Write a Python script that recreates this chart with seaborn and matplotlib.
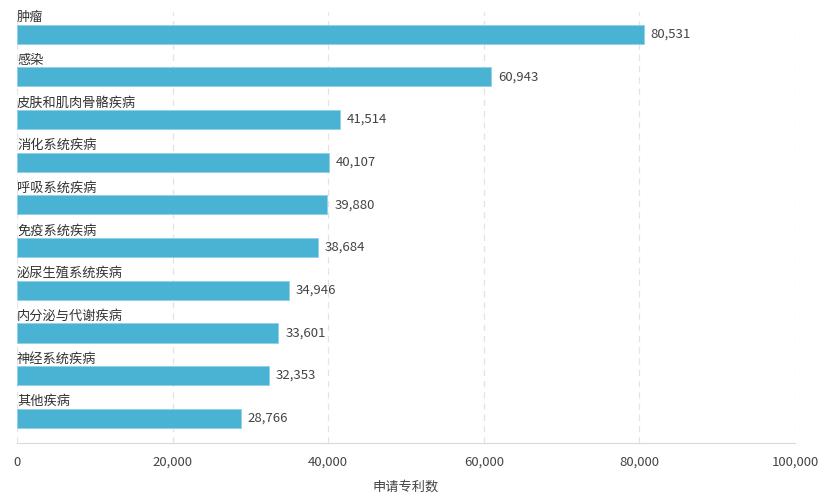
import numpy as np
import pandas as pd
import seaborn as sns
import matplotlib.pyplot as plt
from matplotlib.ticker import FuncFormatter

# 数据
categories = ['肿瘤', '感染', '皮肤和肌肉骨骼疾病', '消化系统疾病', '呼吸系统疾病',
              '免疫系统疾病', '泌尿生殖系统疾病', '内分泌与代谢疾病', '神经系统疾病', '其他疾病']
patents = [80531, 60943, 41514, 40107, 39880, 38684, 34946, 33601, 32353, 28766]
x_ticks = [0, 20000, 40000, 60000, 80000, 100000]

df = pd.DataFrame({'category': categories, 'patents': patents})

sns.set_style('white')
plt.rcParams['font.family'] = ['Noto Sans CJK SC', 'DejaVu Sans']

fig = plt.figure(figsize=(8.26, 4.96), dpi=100)
ax = fig.add_axes([17 / 826, 53 / 496, 778 / 826, 431 / 496])

bar_color = '#4AB2D2'
off = -0.03
sns.barplot(data=df, y='category', x='patents', orient='h', color=bar_color, saturation=1,
            width=0.45, edgecolor='#8fd0e6', linewidth=0.6, ax=ax, zorder=3)

# 条形位置微调，类别名写在条形上方
for p in ax.patches:
    p.set_y(p.get_y() + off)

for i, (c, v) in enumerate(zip(categories, patents)):
    ax.text(0, i - 0.27, c, ha='left', va='bottom', fontsize=9.5, color='#333333')
    ax.text(v + 900, i + off, f'{v:,}', ha='left', va='center', fontsize=9.5, color='#444444')

ax.set_xlim(0, 100000)
ax.set_ylim(len(categories) - 0.5 + 0.05, -0.5 - 0.05)
ax.set_xticks(x_ticks)
ax.xaxis.set_major_formatter(FuncFormatter(lambda v, _: f'{int(v):,}'))
ax.set_yticks([])
ax.set_ylabel('')
ax.set_xlabel('申请专利数', fontsize=9.5, color='#444444', labelpad=9)
ax.tick_params(axis='x', length=0, labelsize=9.5, labelcolor='#444444', pad=9)

ax.grid(axis='x', linestyle=(0, (5, 4)), color='#e3e3e3', linewidth=0.9, zorder=0)
for s in ['top', 'right', 'left']:
    ax.spines[s].set_visible(False)
ax.spines['bottom'].set_color('#d9d9d9')

fig.savefig('out.png', dpi=100)
